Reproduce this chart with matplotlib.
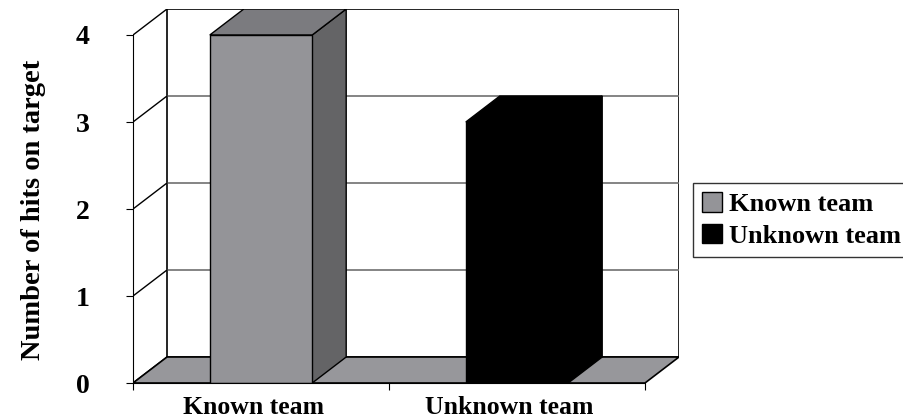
import matplotlib
matplotlib.use("Agg")
import matplotlib.pyplot as plt
from matplotlib.patches import Polygon, Patch

categories = ["Known team", "Unknown team"]
hits = [4, 3]
front_colors = ["#949498", "#000000"]
side_colors = ["#646466", "#000000"]
top_colors = ["#7b7b7f", "#000000"]
y_ticks = [0, 1, 2, 3, 4]

plt.rcParams["font.family"] = ["Liberation Serif", "DejaVu Serif"]
plt.rcParams["font.weight"] = "bold"

W, H = 904, 419
fig = plt.figure(figsize=(W / 100, H / 100), dpi=100)

# pseudo 3d depth offset (data units)
dx = 34 / 256
dy = 26 / 87
ymax = max(y_ticks)
ncat = len(categories)

# axes placed so that front x axis runs 133..645 px and y 0..4 runs 383..35 px
left, right = 133, 133 + (ncat + dx) * 256
bottom, top = H - 383, H - 383 + (ymax + dy) * 87
ax = fig.add_axes([left / W, bottom / H, (right - left) / W, (top - bottom) / H])
ax.set_xlim(0, ncat + dx)
ax.set_ylim(0, ymax + dy)

# back wall
ax.add_patch(Polygon([(dx, dy), (ncat + dx, dy), (ncat + dx, ymax + dy), (dx, ymax + dy)],
                     closed=True, facecolor="white", edgecolor="black", lw=1.2, zorder=1))
for k in y_ticks[1:-1]:
    ax.plot([dx, ncat + dx], [k + dy, k + dy], color="#707070", lw=1.2, zorder=1.5)
# left side wall lines
for k in y_ticks:
    ax.plot([0, dx], [k, k + dy], color="black", lw=1, zorder=1.5)

# floor
ax.add_patch(Polygon([(0, 0), (ncat, 0), (ncat + dx, dy), (dx, dy)],
                     closed=True, facecolor="#97979b", edgecolor="black", lw=1.2, zorder=2))

# bars
bw = 0.2
for i, v in enumerate(hits):
    c = i + 0.5
    front = [(c - bw, 0), (c + bw, 0), (c + bw, v), (c - bw, v)]
    side = [(c + bw, 0), (c + bw + dx, dy), (c + bw + dx, v + dy), (c + bw, v)]
    topf = [(c - bw, v), (c + bw, v), (c + bw + dx, v + dy), (c - bw + dx, v + dy)]
    ax.add_patch(Polygon(side, closed=True, facecolor=side_colors[i], edgecolor="black", lw=1, zorder=3))
    ax.add_patch(Polygon(topf, closed=True, facecolor=top_colors[i], edgecolor="black", lw=1, zorder=3))
    ax.add_patch(Polygon(front, closed=True, facecolor=front_colors[i], edgecolor="black", lw=1, zorder=4))

# axes
for s in ["top", "right"]:
    ax.spines[s].set_visible(False)
ax.spines["left"].set_bounds(0, ymax)
ax.spines["bottom"].set_bounds(0, ncat)
ax.spines["left"].set_zorder(5)
ax.spines["bottom"].set_zorder(5)
ax.set_yticks(y_ticks)
ax.set_yticklabels([str(t) for t in y_ticks], fontsize=20, fontweight="bold")
ax.tick_params(axis="y", direction="out", length=5, pad=26)
ax.set_xticks(range(ncat + 1))
ax.set_xticklabels([""] * (ncat + 1))
ax.set_xticks([i + 0.47 for i in range(ncat)], minor=True)
ax.set_xticklabels(categories, minor=True, fontsize=18.5, fontweight="bold")
ax.tick_params(axis="x", which="major", direction="out", length=5)
ax.tick_params(axis="x", which="minor", length=0, pad=9)
ax.patch.set_visible(False)

fig.text(34 / W, 0.5, "Number of hits on target", rotation=90, ha="center", va="center",
         fontsize=20.5, fontweight="bold")

handles = [Patch(facecolor=front_colors[i], edgecolor="black", label=categories[i]) for i in range(ncat)]
leg = fig.legend(handles=handles, loc="center left", bbox_to_anchor=(693 / W, 1 - 220 / H),
                 fontsize=19, frameon=True, fancybox=False, edgecolor="black",
                 handlelength=0.75, handleheight=0.75, handletextpad=0.25,
                 borderpad=0.35, labelspacing=0.3, borderaxespad=0)
leg.get_frame().set_linewidth(1)
for t in leg.get_texts():
    t.set_fontweight("bold")

fig.savefig("out.png", dpi=100)
